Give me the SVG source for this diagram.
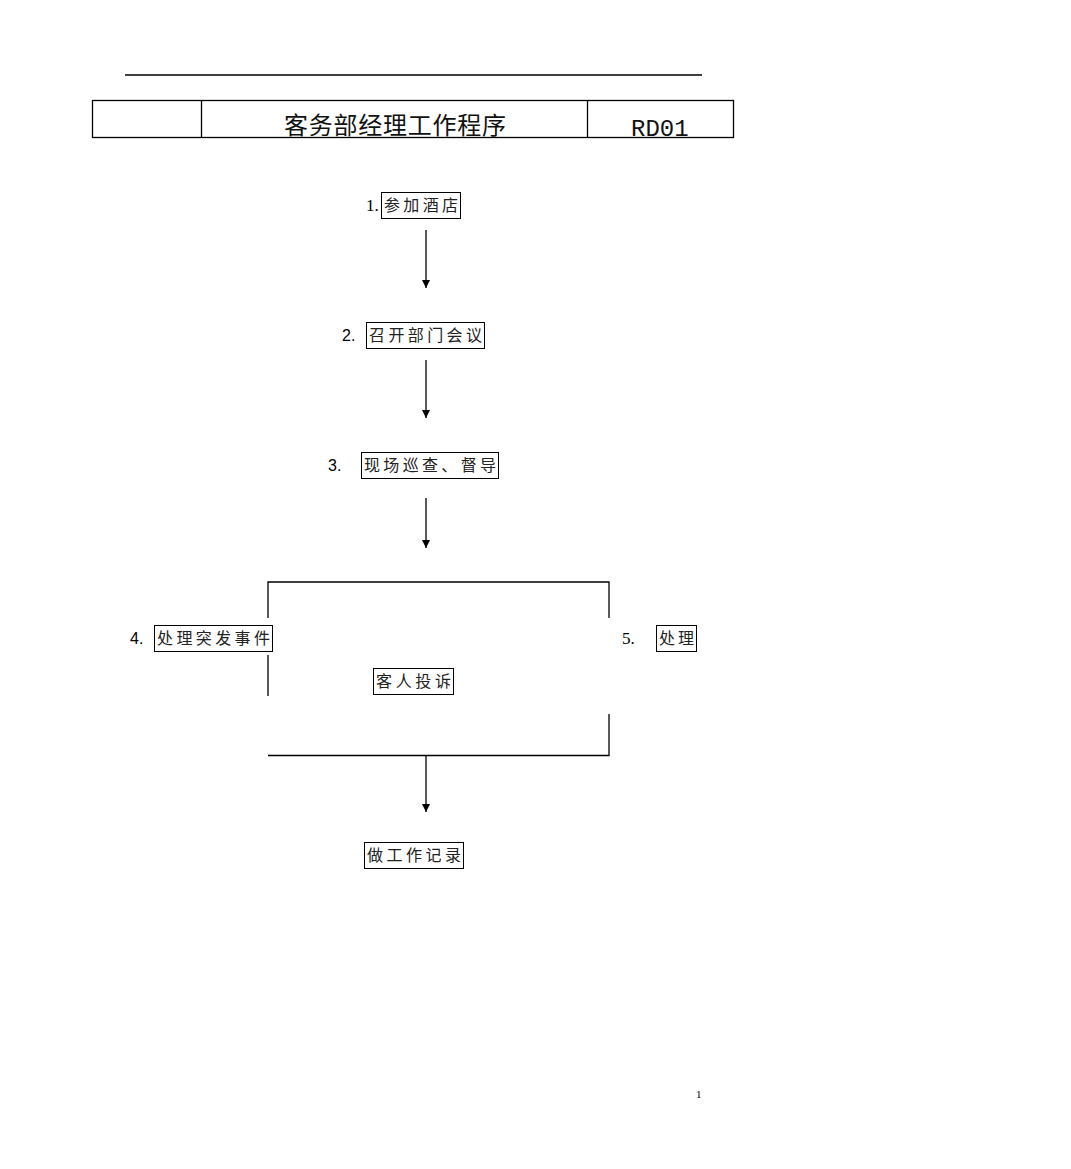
<svg xmlns="http://www.w3.org/2000/svg" width="1071" height="1169" viewBox="0 0 1071 1169">
<style>
.ln{stroke:#000;stroke-width:1.3;fill:none}
.box{stroke:#000;stroke-width:1;fill:#fff}
.cj{font-family:"Noto Sans CJK SC","Noto Sans CJK JP",sans-serif;font-size:16px;fill:#222}
.ns{font-family:"Liberation Serif",serif;font-size:17px;fill:#000}
.na{font-family:"Liberation Sans",sans-serif;font-size:16px;fill:#000}
</style>
<defs>
<marker id="ah" viewBox="0 0 10 10" refX="10" refY="5" markerWidth="8" markerHeight="8" markerUnits="userSpaceOnUse" orient="auto">
<path d="M0,0 L10,5 L0,10 z" fill="#000"/>
</marker>
</defs>
<rect width="1071" height="1169" fill="#fff"/>
<g id="header">
<line x1="125" y1="75" x2="702" y2="75" class="ln"/>
<rect x="92.5" y="100.5" width="641" height="37" class="ln"/>
<line x1="201.5" y1="100" x2="201.5" y2="138" class="ln"/>
<line x1="587.5" y1="100" x2="587.5" y2="138" class="ln"/>
<text x="284" y="134" textLength="222" lengthAdjust="spacing" style="font-family:'Noto Sans CJK SC',sans-serif;font-size:24px;fill:#111">客务部经理工作程序</text>
<text x="631" y="136" style="font-family:'Liberation Mono',monospace;font-size:24px;fill:#111">RD01</text>
</g>
<g id="connectors">
<line x1="426" y1="230" x2="426" y2="288" class="ln" marker-end="url(#ah)"/>
<line x1="426" y1="360" x2="426" y2="418" class="ln" marker-end="url(#ah)"/>
<line x1="426" y1="498" x2="426" y2="548" class="ln" marker-end="url(#ah)"/>
<polyline points="268,618 268,582 609,582 609,618" class="ln"/>
<line x1="268" y1="655" x2="268" y2="696" class="ln"/>
<polyline points="609,714 609,755.5 268,755.5" class="ln"/>
<line x1="426" y1="755" x2="426" y2="812" class="ln" marker-end="url(#ah)"/>
</g>
<g id="node1">
<text x="366" y="211" class="ns">1.</text>
<rect x="381.5" y="192.5" width="79" height="26" class="box"/>
<text x="384" y="211" class="cj" textLength="74" lengthAdjust="spacing">参加酒店</text>
</g>
<g id="node2">
<text x="342" y="341" class="na">2.</text>
<rect x="366.5" y="322.5" width="118" height="26" class="box"/>
<text x="369" y="341" class="cj" textLength="113" lengthAdjust="spacing">召开部门会议</text>
</g>
<g id="node3">
<text x="328" y="471" class="na">3.</text>
<rect x="361.5" y="452.5" width="137" height="26" class="box"/>
<text x="364" y="471" class="cj" textLength="132" lengthAdjust="spacing">现场巡查、督导</text>
</g>
<g id="node4">
<text x="130" y="644" class="na">4.</text>
<rect x="154.5" y="625.5" width="118" height="26" class="box"/>
<text x="157" y="644" class="cj" textLength="113" lengthAdjust="spacing">处理突发事件</text>
</g>
<g id="node5">
<text x="622" y="644" class="ns">5.</text>
<rect x="656.5" y="625.5" width="40" height="26" class="box"/>
<text x="659" y="644" class="cj" textLength="35" lengthAdjust="spacing">处理</text>
</g>
<g id="node6">
<rect x="373.5" y="668.5" width="80" height="26" class="box"/>
<text x="376" y="687" class="cj" textLength="75" lengthAdjust="spacing">客人投诉</text>
</g>
<g id="node7">
<rect x="364.5" y="842.5" width="99" height="26" class="box"/>
<text x="367" y="861" class="cj" textLength="94" lengthAdjust="spacing">做工作记录</text>
</g>
<g id="page">
<text x="696" y="1098" style="font-family:'Liberation Serif',serif;font-size:11px;fill:#000">1</text>
</g>
</svg>
